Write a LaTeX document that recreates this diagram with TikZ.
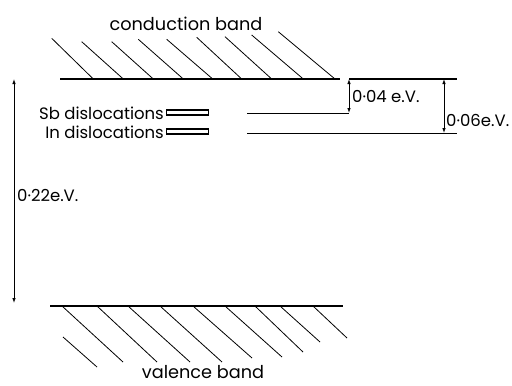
\documentclass[tikz,border=0pt]{standalone}
\usepackage{fontspec}
\setmainfont{Poppins}
\usetikzlibrary{arrows.meta}
\begin{document}
\begin{tikzpicture}[x=1pt,y=-1pt,
  band/.style={line width=1.3pt},
  hatch/.style={line width=0.8pt},
  level/.style={line width=0.9pt},
  dim/.style={line width=0.8pt,{Latex[length=5pt,width=3.5pt]}-{Latex[length=5pt,width=3.5pt]}},
  big/.style={font=\fontsize{17.7}{20}\selectfont, inner sep=0pt},
  small/.style={font=\fontsize{16.5}{19}\selectfont, inner sep=0pt},
  trap/.style={draw, line width=1.2pt, minimum width=42pt, minimum height=5pt, inner sep=0pt}]
\useasboundingbox (0,0) rectangle (512,386);

% conduction band
\coordinate (cbL) at (60,79);
\coordinate (cbR) at (340,79);
\coordinate (cb2L) at (349,79);
\coordinate (cb2R) at (457,79);
\draw[band] (cbL) -- (cbR);
\draw[band] (cb2L) -- (cb2R);
\foreach \xa/\ya/\xb in {51.7/38.3/93.3, 81.7/41.7/123.3, 111.7/41.7/153.3, 138.3/39.3/183.3, 166.7/39.3/212.7, 196.7/37.3/241.7, 225/36.7/271.7, 251.7/35/303.3, 278.3/31.7/335}
  \draw[hatch] (\xa,\ya) -- (\xb,79);
\node[big] (cbtext) at (186,24) {conduction band};

% valence band
\coordinate (vbL) at (50,306);
\coordinate (vbR) at (343,306);
\draw[band] (vbL) -- (vbR);
\foreach \xa/\ya/\xb/\yb in {63/337/97/367, 62/306/123/362, 97/306/157/362, 128/306/190/362, 160/306/222/362, 193/306/252/358, 225/306/282/357, 255/306/303/352, 280/306/320/342, 313/306/347/338}
  \draw[hatch] (\xa,\ya) -- (\xb,\yb);
\node[big, text depth=0pt, anchor=base] (vbtext) at (203,378) {valence band};

% dislocation levels
\node[small, anchor=east] (sbtext) at (164,113) {Sb dislocations};
\node[trap] (sbrect) at (187.5,112.5) {};
\node[small, anchor=east] (intext) at (164,132) {In dislocations};
\node[trap] (inrect) at (187.5,131.5) {};

\coordinate (sbL) at (247,113);
\coordinate (sbR) at (349,113);
\coordinate (inL) at (247,133);
\coordinate (inR) at (457,133);
\draw[level] (sbL) -- (sbR);
\draw[level] (inL) -- (inR);

% dimensions
\draw[dim] (cb2L) -- (sbR);
\coordinate (d6t) at (444,79);
\coordinate (d6b) at (444,133);
\draw[dim] (d6t) -- (d6b);
\coordinate (d22t) at (14,79);
\coordinate (d22b) at (14,303);
\draw[dim] (d22t) -- (d22b);

\node[small, anchor=west] (l04) at (352,97) {0·04 e.V.};
\node[small, anchor=west] (l06) at (446,120) {0·06e.V.};
\node[small, anchor=west] (l22) at (17,195) {0·22e.V.};
\end{tikzpicture}
\end{document}
